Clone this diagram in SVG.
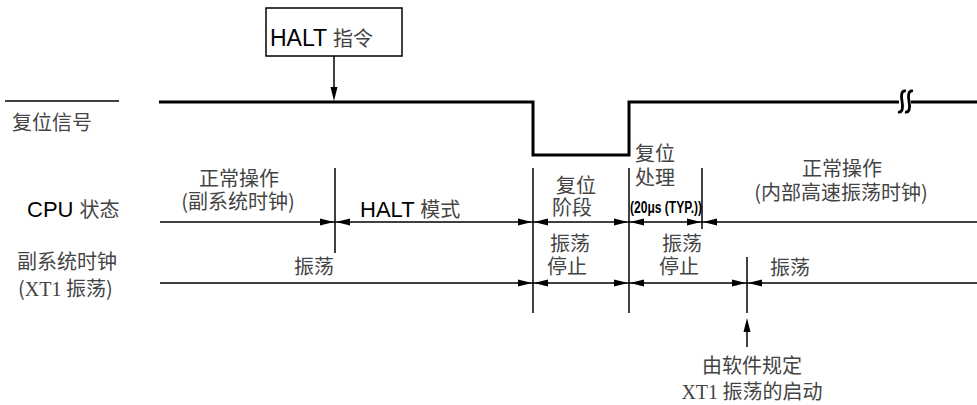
<svg xmlns="http://www.w3.org/2000/svg" xmlns:xlink="http://www.w3.org/1999/xlink" width="977" height="405" viewBox="0 0 977 405">
<style>
.zh{font-family:"Noto Sans CJK SC","Noto Sans",sans-serif;font-size:20px;fill:#444}
.en{font-family:"Liberation Sans",Arial,sans-serif;fill:#000}
.thin{stroke:#000;stroke-width:1.5;fill:none}
.sig{stroke:#000;stroke-width:3;fill:none}
.mid{text-anchor:middle}
</style>
<defs>
<path id="ar" d="M0,0 L-14,-3.5 L-14,3.5 Z" fill="#000"/>
<path id="al" d="M0,0 L14,-3.5 L14,3.5 Z" fill="#000"/>
<path id="au" d="M0,0 L-3.5,14 L3.5,14 Z" fill="#000"/>
</defs>
<rect width="977" height="405" fill="#fff"/>

<g id="halt-box">
<rect x="266" y="8" width="136" height="48" fill="#fff" stroke="#000" stroke-width="1.5"/>
<text x="270" y="46"><tspan class="en" font-size="23">HALT </tspan><tspan class="zh" font-size="19">指令</tspan></text>
</g>

<g id="reset-label">
<line x1="5" y1="101" x2="119" y2="101" class="thin"/>
<text class="zh" x="12" y="130">复位信号</text>
</g>

<g id="reset-signal">
<path class="sig" d="M159,102 H533 V155 H629 V102 H899"/>
<path class="sig" d="M911,102 H977"/>
<path stroke="#000" stroke-width="2.8" fill="none" d="M906,91 C901,90 901,96 902,101 C903,107 903,113 898,112"/>
<path stroke="#000" stroke-width="2.8" fill="none" d="M913,91 C908,90 908,96 909,101 C910,107 910,113 905,112"/>
</g>

<g id="cpu-label">
<text x="27" y="217"><tspan class="en" font-size="22">CPU </tspan><tspan class="zh">状态</tspan></text>
</g>
<g id="clock-label">
<text class="zh" x="17" y="269">副系统时钟</text>
<text class="zh" x="18" y="296">(<tspan font-family="Liberation Serif,serif">XT1</tspan> 振荡)</text>
</g>

<g id="cpu-normal-sub">
<text class="zh mid" x="239" y="186">正常操作</text>
<text class="zh mid" x="238" y="209">(副系统时钟)</text>
</g>
<g id="cpu-halt">
<text x="360" y="217"><tspan class="en" font-size="22">HALT </tspan><tspan class="zh" font-size="19">模式</tspan></text>
</g>
<g id="cpu-reset-phase">
<text class="zh mid" x="576" y="193">复位</text>
<text class="zh mid" x="572" y="215">阶段</text>
</g>
<g id="cpu-reset-proc">
<text class="zh" x="635" y="161">复位</text>
<text class="zh" x="635" y="185">处理</text>
<text class="en" x="630" y="213" font-size="16" font-weight="bold" textLength="72" lengthAdjust="spacingAndGlyphs">(20μs (TYP.))</text>
</g>
<g id="cpu-normal-int">
<text class="zh mid" x="842" y="176">正常操作</text>
<text class="zh mid" x="841" y="200">(内部高速振荡时钟)</text>
</g>

<g id="clk-osc1"><text class="zh mid" x="314" y="274">振荡</text></g>
<g id="clk-stop1">
<text class="zh mid" x="570" y="251">振荡</text>
<text class="zh mid" x="567" y="274">停止</text>
</g>
<g id="clk-stop2">
<text class="zh mid" x="682" y="251">振荡</text>
<text class="zh mid" x="679" y="274">停止</text>
</g>
<g id="clk-osc2"><text class="zh" x="770" y="275">振荡</text></g>

<g id="note">
<text class="zh mid" x="752" y="373">由软件规定</text>
<text class="zh mid" x="752" y="399"><tspan font-family="Liberation Serif,serif">XT1</tspan> 振荡的启动</text>
</g>

<g id="connectors">
<line x1="334" y1="56" x2="334" y2="88" class="thin"/>
<use xlink:href="#au" transform="translate(334,101) rotate(180)"/>

<line x1="160" y1="222" x2="977" y2="222" class="thin"/>
<line x1="160" y1="283" x2="977" y2="283" class="thin"/>

<line x1="335" y1="168" x2="335" y2="253" class="thin"/>
<line x1="533" y1="168" x2="533" y2="313" class="thin"/>
<line x1="629" y1="168" x2="629" y2="313" class="thin"/>
<line x1="702" y1="168" x2="702" y2="229" class="thin"/>
<line x1="747" y1="257" x2="747" y2="313" class="thin"/>

<use xlink:href="#ar" x="334" y="222"/>
<use xlink:href="#al" x="336" y="222"/>
<use xlink:href="#ar" x="532" y="222"/>
<use xlink:href="#al" x="534" y="222"/>
<use xlink:href="#ar" x="628" y="222"/>
<use xlink:href="#al" x="630" y="222"/>
<use xlink:href="#ar" x="701" y="222"/>
<use xlink:href="#al" x="703" y="222"/>

<use xlink:href="#ar" x="532" y="283"/>
<use xlink:href="#al" x="534" y="283"/>
<use xlink:href="#ar" x="628" y="283"/>
<use xlink:href="#al" x="630" y="283"/>
<use xlink:href="#ar" x="746" y="283"/>
<use xlink:href="#al" x="748" y="283"/>

<line x1="747" y1="330" x2="747" y2="347" class="thin"/>
<use xlink:href="#au" x="747" y="318"/>
</g>
</svg>
